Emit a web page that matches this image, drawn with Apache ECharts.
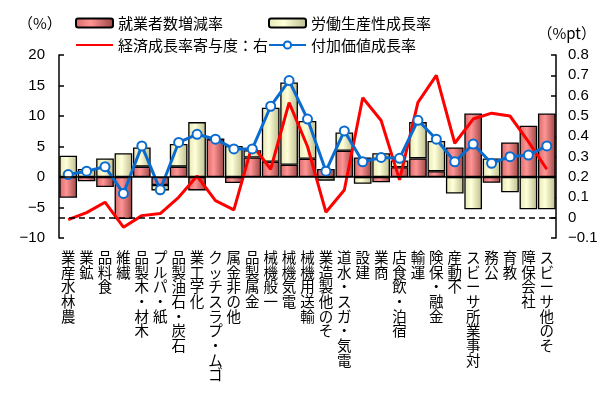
<!DOCTYPE html>
<html lang="ja">
<head>
<meta charset="UTF-8">
<title>産業別成長率</title>
<script src="https://cdn.jsdelivr.net/npm/echarts@6/dist/echarts.min.js"></script>
<style>
  html, body { margin: 0; padding: 0; background: #fff; }
  #main { width: 602px; height: 394px; }
</style>
</head>
<body>
<div id="main"></div>
<script>
    var categories = ['農林水産業','鉱業','食料品','繊維','木材・木製品','紙・パルプ','石炭・石油製品','化学工業',
        'ゴム・プラスチック','他の非金属','金属製品','一般機械','電気機械','輸送用機械','その他製造業',
        '電気・ガス・水道','建設','商業','宿泊・飲食店','運輸','金融・保険','不動産','対事業所サービス',
        '公務','教育','社会保障','その他サービス'];

    // 就業者数増減率 (%)
    var employment = [-3.4, -0.7, -1.65, -6.9, 1.7, -1.3, 1.7, -2.2, 6.2, -1.0, 3.2, 2.5, 2.0, 3.0, 1.3,
        4.3, 3.2, -0.85, 1.6, 3.05, 0.95, 4.85, 10.4, -0.95, 5.65, 8.4, 10.4];
    // 労働生産性成長率 (%)
    var productivity = [3.5, 1.3, 3.05, 3.9, 3.15, -0.9, 3.7, 9.0, 0, 5.1, 1.2, 8.85, 13.5, 6.2, -0.6,
        3.0, -1.1, 3.9, 1.1, 5.95, 4.95, -2.7, -5.3, 3.05, -2.5, -5.3, -5.3];
    // 付加価値成長率 (%)
    var valueAdded = [0.4, 0.95, 1.7, -2.7, 5.1, -2.1, 5.66, 7.0, 6.2, 4.6, 4.6, 11.6, 15.8, 9.5, 0.95,
        7.56, 2.5, 3.2, 3.06, 9.3, 6.2, 2.5, 5.4, 2.25, 3.33, 3.6, 5.1];
    // 経済成長率寄与度 (%pt, 右軸)
    var contribution = [-0.01, 0.025, 0.076, -0.047, 0.01, 0.02, 0.10, 0.205, 0.084, 0.038, 0.358, 0.238,
        0.566, 0.35, 0.027, 0.136, 0.59, 0.478, 0.186, 0.567, 0.70, 0.366, 0.485, 0.514, 0.50, 0.374, 0.238];

    var leftTicks = {min: -10, max: 20, interval: 5};
    var rightTicks = {min: -0.1, max: 0.8, interval: 0.1};

    var jp = '"Noto Sans CJK JP", sans-serif';
    var num = '"Liberation Sans", Arial, sans-serif';

    function minus(v) {
        return String(v).replace('-', '\u2212');
    }
    // 縦書き風: 下から上へ読む
    function vertical(s) {
        return s.split('').reverse().join('\n');
    }

    var redFill = new echarts.graphic.LinearGradient(0, 0, 1, 0, [
        {offset: 0, color: '#d46a6a'}, {offset: 0.4, color: '#ff9494'}, {offset: 1, color: '#9c4444'}]);
    var yellowFill = new echarts.graphic.LinearGradient(0, 0, 1, 0, [
        {offset: 0, color: '#e6e6b4'}, {offset: 0.4, color: '#ffffd9'}, {offset: 1, color: '#bcbc8c'}]);

    var myChart = echarts.init(document.getElementById('main'));
    var option = {
        animation: false,
        grid: {left: 59, right: 46, top: 55, bottom: 156},
        legend: [{
            orient: 'vertical', left: 70, top: 10, itemGap: 6, itemWidth: 37, itemHeight: 9,
            textStyle: {fontFamily: jp, fontSize: 15, lineHeight: 16, color: '#000'},
            data: ['就業者数増減率', {name: '経済成長率寄与度：右', itemStyle: {opacity: 0}}]
        }, {
            orient: 'vertical', left: 263, top: 10, itemGap: 6, itemWidth: 37, itemHeight: 9,
            textStyle: {fontFamily: jp, fontSize: 15, lineHeight: 16, color: '#000'},
            data: ['労働生産性成長率', '付加価値成長率']
        }],
        graphic: [
            {type: 'text', left: 18, top: 16, style: {text: '（%）', font: '15px ' + jp, fill: '#000'}},
            {type: 'text', right: 6, top: 26, style: {text: '（%pt）', font: '15px ' + jp, fill: '#000'}}
        ],
        xAxis: {
            type: 'category',
            data: categories,
            axisLine: {show: false},
            axisTick: {show: false},
            axisLabel: {
                interval: 0, margin: 12, color: '#000',
                fontFamily: jp, fontSize: 14.5, lineHeight: 14.7,
                verticalAlign: 'top', align: 'center',
                formatter: function (v) { return vertical(v); }
            }
        },
        yAxis: [{
            type: 'value',
            min: leftTicks.min, max: leftTicks.max, interval: leftTicks.interval,
            axisLine: {show: true, lineStyle: {color: '#000', width: 1.5}},
            axisTick: {show: true, inside: true, length: 5, lineStyle: {color: '#000', width: 1.5}},
            axisLabel: {margin: 14, color: '#000', fontFamily: num, fontSize: 15, formatter: minus},
            splitLine: {show: false}
        }, {
            type: 'value',
            min: rightTicks.min, max: rightTicks.max, interval: rightTicks.interval,
            axisLine: {show: true, lineStyle: {color: '#000', width: 1.5}},
            axisTick: {show: true, inside: true, length: 5, lineStyle: {color: '#000', width: 1.5}},
            axisLabel: {
                margin: 12, color: '#000', fontFamily: num, fontSize: 15,
                formatter: function (v) { return minus(+v.toFixed(1)); }
            },
            splitLine: {show: false}
        }],
        series: [{
            name: '就業者数増減率',
            type: 'bar',
            stack: 'growth',
            barCategoryGap: '4%',
            data: employment,
            itemStyle: {color: redFill, borderColor: '#000', borderWidth: 1.3},
            markLine: {
                silent: true, symbol: 'none', label: {show: false},
                lineStyle: {color: '#000', width: 1.5, type: 'solid'},
                data: [{yAxis: 0}]
            }
        }, {
            name: '労働生産性成長率',
            type: 'bar',
            stack: 'growth',
            data: productivity,
            itemStyle: {color: yellowFill, borderColor: '#000', borderWidth: 1.3}
        }, {
            name: '経済成長率寄与度：右',
            type: 'line',
            yAxisIndex: 1,
            data: contribution,
            symbol: 'none',
            itemStyle: {color: '#ff0000'},
            lineStyle: {color: '#ff0000', width: 3},
            z: 3,
            markLine: {
                silent: true, symbol: 'none', label: {show: false},
                lineStyle: {color: '#000', width: 1.5, type: [6, 4]},
                data: [{yAxis: 0}]
            }
        }, {
            name: '付加価値成長率',
            type: 'line',
            data: valueAdded,
            symbol: 'circle',
            symbolSize: 9,
            itemStyle: {color: '#fff', borderColor: '#0a6ccf', borderWidth: 2},
            lineStyle: {color: '#0a6ccf', width: 3},
            z: 4
        }]
    };
    myChart.setOption(option);
</script>
</body>
</html>
